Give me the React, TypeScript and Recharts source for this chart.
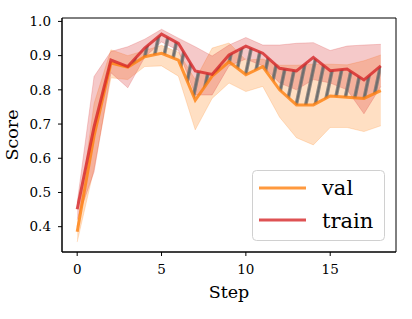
import React from "react";
import { ComposedChart, Area, Line, XAxis, YAxis, ReferenceArea, Label } from "recharts";

const steps = [0, 1, 2, 3, 4, 5, 6, 7, 8, 9, 10, 11, 12, 13, 14, 15, 16, 17, 18];
const valMean = [0.385, 0.665, 0.878, 0.866, 0.897, 0.907, 0.887, 0.77, 0.84, 0.882, 0.844, 0.868, 0.8, 0.756, 0.756, 0.782, 0.778, 0.775, 0.798];
const trainMean = [0.451, 0.692, 0.887, 0.868, 0.922, 0.963, 0.936, 0.855, 0.845, 0.902, 0.928, 0.907, 0.863, 0.855, 0.895, 0.856, 0.861, 0.829, 0.87];
const valLow = [0.355, 0.57, 0.835, 0.83, 0.868, 0.87, 0.84, 0.683, 0.775, 0.82, 0.795, 0.81, 0.72, 0.66, 0.639, 0.69, 0.69, 0.678, 0.695];
const valHigh = [0.4, 0.76, 0.917, 0.9, 0.915, 0.93, 0.91, 0.83, 0.922, 0.937, 0.887, 0.89, 0.872, 0.872, 0.875, 0.875, 0.873, 0.885, 0.902];
const trainLow = [0.42, 0.56, 0.85, 0.806, 0.895, 0.94, 0.915, 0.785, 0.785, 0.87, 0.89, 0.87, 0.82, 0.8, 0.83, 0.82, 0.8, 0.73, 0.81];
const trainHigh = [0.47, 0.839, 0.912, 0.926, 0.948, 0.977, 0.951, 0.926, 0.899, 0.931, 0.953, 0.931, 0.931, 0.936, 0.938, 0.915, 0.928, 0.931, 0.933];
const xTicks = [0, 5, 10, 15];
const yTicks = [0.4, 0.5, 0.6, 0.7, 0.8, 0.9, 1.0];

const FONT = "DejaVu Serif";
const ORANGE = "#ff7f0e";
const RED = "#d62728";
const X_DOMAIN = [-0.9, 18.9];
const Y_DOMAIN = [0.326, 1.01];

const data = steps.map((s, i) => ({
  step: s,
  val: valMean[i],
  train: trainMean[i],
  valBand: [valLow[i], valHigh[i]],
  trainBand: [trainLow[i], trainHigh[i]],
  gap: s >= 3 ? [valMean[i], trainMean[i]] : null,
}));

const tickStyle = { fill: "#000", fontSize: 13.5, fontFamily: FONT };

function Legendbox() {
  return (
    <svg
      width={134}
      height={72}
      style={{ position: "absolute", left: 252, top: 170 }}
    >
      <rect x={0.5} y={0.5} width={132} height={70} rx={4} fill="#fff" fillOpacity={0.8} stroke="#d0d0d0" />
      <line x1={7} x2={54} y1={18} y2={18} stroke={ORANGE} strokeOpacity={0.8} strokeWidth={3} />
      <text x={70} y={25} fontFamily={FONT} fontSize={21} fill="#000">val</text>
      <line x1={7} x2={54} y1={50} y2={50} stroke={RED} strokeOpacity={0.8} strokeWidth={3} />
      <text x={70} y={58} fontFamily={FONT} fontSize={21} fill="#000">train</text>
    </svg>
  );
}

export default function App() {
  return (
    <div style={{ position: "absolute", left: 0, top: 0, width: 412, height: 319, background: "#fff" }}>
      <ComposedChart
        width={412}
        height={319}
        data={data}
        margin={{ top: 18, right: 16, bottom: 0, left: 0 }}
      >
        <defs>
          <pattern id="hatch" patternUnits="userSpaceOnUse" width={9.3} height={9.3} patternTransform="rotate(12)">
            <line x1={4.65} y1={-1} x2={4.65} y2={10.3} stroke="#6e6e6e" strokeWidth={3.2} />
          </pattern>
        </defs>
        <XAxis
          dataKey="step"
          type="number"
          domain={X_DOMAIN}
          ticks={xTicks}
          allowDataOverflow
          height={67}
          tickSize={4}
          tickMargin={8}
          tick={tickStyle}
          tickLine={{ stroke: "#000" }}
          axisLine={{ stroke: "#000" }}
        >
          <Label
            content={(props: any) => {
              const vb = props.viewBox || { x: 62, y: 252, width: 334, height: 67 };
              return (
                <text x={vb.x + vb.width / 2} y={298} textAnchor="middle" fontFamily={FONT} fontSize={17.5} fill="#000">
                  Step
                </text>
              );
            }}
          />
        </XAxis>
        <YAxis
          type="number"
          domain={Y_DOMAIN}
          ticks={yTicks}
          allowDataOverflow
          width={62}
          tickSize={4}
          tickMargin={7}
          tick={tickStyle}
          tickFormatter={(v: number) => v.toFixed(1)}
          tickLine={{ stroke: "#000" }}
          axisLine={{ stroke: "#000" }}
        >
          <Label
            content={(props: any) => {
              const vb = props.viewBox || { x: 0, y: 18, width: 62, height: 234 };
              const cy = vb.y + vb.height / 2;
              return (
                <text x={18} y={cy} transform={`rotate(-90 18 ${cy})`} textAnchor="middle" fontFamily={FONT} fontSize={17.5} fill="#000">
                  Score
                </text>
              );
            }}
          />
        </YAxis>
        <Area
          type="linear"
          dataKey="valBand"
          fill={ORANGE}
          fillOpacity={0.25}
          stroke={ORANGE}
          strokeOpacity={0.2}
          strokeWidth={1}
          isAnimationActive={false}
          dot={false}
          activeDot={false}
        />
        <Area
          type="linear"
          dataKey="trainBand"
          fill={RED}
          fillOpacity={0.25}
          stroke={RED}
          strokeOpacity={0.2}
          strokeWidth={1}
          isAnimationActive={false}
          dot={false}
          activeDot={false}
        />
        <Area
          type="linear"
          dataKey="gap"
          fill="url(#hatch)"
          fillOpacity={1}
          stroke="none"
          isAnimationActive={false}
          dot={false}
          activeDot={false}
        />
        <Line
          type="linear"
          dataKey="val"
          stroke={ORANGE}
          strokeOpacity={0.8}
          strokeWidth={3}
          dot={false}
          activeDot={false}
          isAnimationActive={false}
        />
        <Line
          type="linear"
          dataKey="train"
          stroke={RED}
          strokeOpacity={0.8}
          strokeWidth={3}
          dot={false}
          activeDot={false}
          isAnimationActive={false}
        />
        <ReferenceArea
          x1={X_DOMAIN[0]}
          x2={X_DOMAIN[1]}
          y1={Y_DOMAIN[0]}
          y2={Y_DOMAIN[1]}
          fill="none"
          stroke="#000"
          strokeWidth={1}
        />
      </ComposedChart>
      <Legendbox />
    </div>
  );
}
